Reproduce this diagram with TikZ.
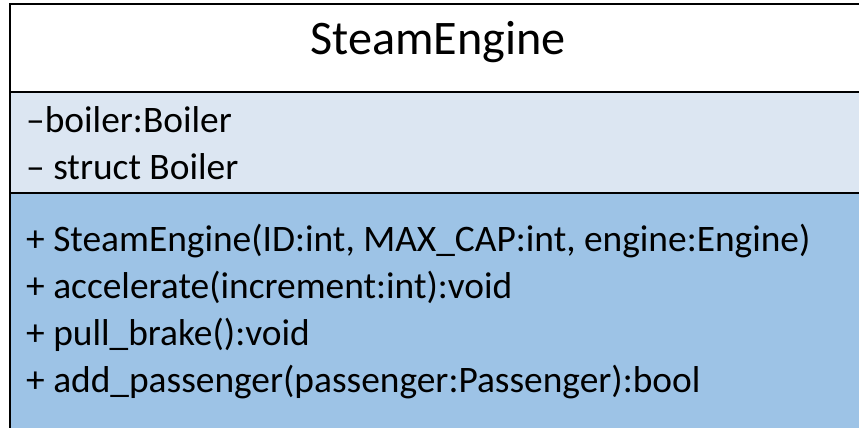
\documentclass[tikz,border=0pt]{standalone}
\usepackage{fontspec}
\setmainfont{Carlito}
\definecolor{attrfill}{RGB}{220,230,242}
\definecolor{opfill}{RGB}{157,195,230}
\begin{document}
\begin{tikzpicture}[x=1pt,y=-1pt,
  compartment/.style={draw=black,line width=2pt},
  titletext/.style={anchor=base,inner sep=0pt,font=\fontsize{48.2}{54}\selectfont},
  attrtext/.style={anchor=base west,inner sep=0pt,font=\fontsize{37.4}{42}\selectfont},
  optext/.style={anchor=base west,inner sep=0pt,font=\fontsize{37.4}{42}\selectfont}]
\useasboundingbox (0,0) rectangle (859,428);
% class compartments (continue past the page edge)
\begin{scope}
\clip (0,0) rectangle (859,428);
\draw[compartment,fill=white] (10,4) rectangle (880,92);
\draw[compartment,fill=attrfill] (10,92) rectangle (880,193);
\draw[compartment,fill=opfill] (10,193) rectangle (880,450);
\end{scope}
% class name
\node[titletext] (name) at (438,55) {SteamEngine};
% attributes
\node[attrtext] (a1) at (26,132) {–boiler:Boiler};
\node[attrtext] (a2) at (26,179) {– struct Boiler};
% operations
\node[optext] (o1) at (26,251) {+ SteamEngine(ID:int, MAX\_CAP:int, engine:Engine)};
\node[optext] (o2) at (26,298) {+ accelerate(increment:int):void};
\node[optext] (o3) at (26,345) {+ pull\_brake():void};
\node[optext] (o4) at (26,392) {+ add\_passenger(passenger:Passenger):bool};
\end{tikzpicture}
\end{document}
